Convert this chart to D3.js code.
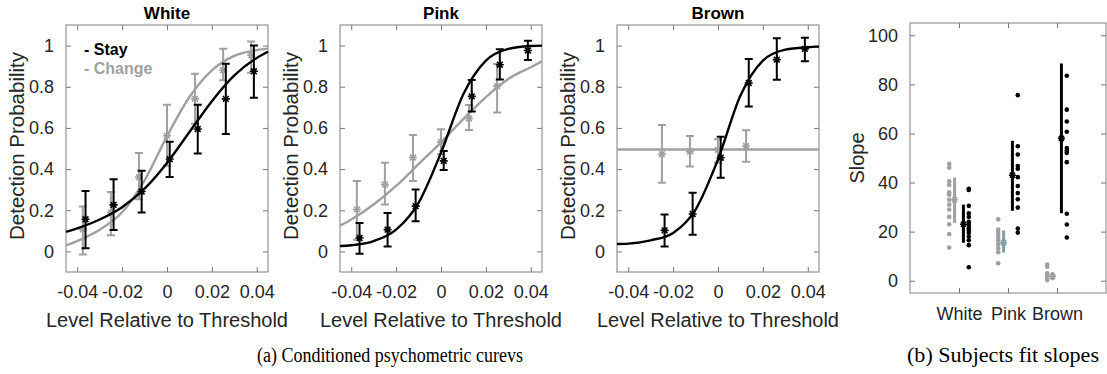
<!DOCTYPE html>
<html>
<head>
<meta charset="utf-8">
<script src="https://cdn.jsdelivr.net/npm/d3@7"></script>
<style>
body { margin: 0; background: #fff; }
svg { display: block; font-family: Arial, "Liberation Sans", sans-serif; }
</style>
</head>
<body>
<svg id="canvas" width="1107" height="374"></svg>
<script>
// ---- datos ----
const panelTitles = ["White", "Pink", "Brown"];
const stayX   = [-0.0363, -0.0238, -0.0113, 0.0012, 0.0137, 0.0262, 0.0387];
const changeX = [-0.0375, -0.025, -0.0125, 0, 0.0125, 0.025, 0.0375];

// [media, inferior, superior]; null = sin punto
const whiteStay   = [[0.156, 0.015, 0.294], [0.226, 0.104, 0.351], [0.291, 0.189, 0.392], [0.449, 0.362, 0.533], [0.595, 0.476, 0.712], [0.741, 0.571, 0.912], [0.875, 0.746, 1.001]];
const whiteChange = [[0.107, -0.015, 0.218], [0.189, 0.078, 0.289], [0.36, 0.254, 0.478], [0.562, 0.416, 0.712], [0.741, 0.62, 0.863], [0.88, 0.831, 0.985], [0.953, 0.868, 1.02]];
const pinkStay    = [[0.065, -0.011, 0.138], [0.106, 0.024, 0.187], [0.22, 0.146, 0.301], [0.44, 0.395, 0.488], [0.753, 0.68, 0.833], [0.907, 0.835, 0.982], [0.976, 0.93, 1.023]];
const pinkChange  = [[0.204, 0.057, 0.342], [0.325, 0.228, 0.431], [0.456, 0.342, 0.565], [0.532, 0.472, 0.594], [0.646, 0.59, 0.711], [0.803, 0.675, 0.911], null];
const brownStay   = [null, [0.102, 0.024, 0.179], [0.182, 0.081, 0.285], [0.455, 0.358, 0.557], [0.818, 0.704, 0.935], [0.932, 0.834, 1.036], [0.984, 0.924, 1.038]];
const brownChange = [null, [0.472, 0.334, 0.614], [0.485, 0.412, 0.561], [0.493, 0.431, 0.545], [0.512, 0.436, 0.589], null, null];

const fitX = [-0.045, -0.04, -0.03, -0.02, -0.01, 0, 0.01, 0.02, 0.03, 0.04, 0.045];
const whiteStayFit   = [0.095, 0.112, 0.155, 0.215, 0.305, 0.43, 0.58, 0.73, 0.855, 0.94, 0.97];
const whiteChangeFit = [0.029, 0.05, 0.105, 0.19, 0.345, 0.56, 0.75, 0.88, 0.95, 0.978, 0.985];
const pinkStayFit    = [0.026, 0.03, 0.05, 0.106, 0.236, 0.48, 0.765, 0.927, 0.984, 0.998, 1.0];
const pinkChangeFit  = [0.125, 0.155, 0.228, 0.318, 0.424, 0.53, 0.644, 0.75, 0.838, 0.895, 0.923];
const brownStayFit   = [0.036, 0.038, 0.054, 0.09, 0.203, 0.447, 0.757, 0.927, 0.98, 0.992, 0.995];
const brownChangeFit = [0.495, 0.495, 0.495, 0.495, 0.495, 0.495, 0.495, 0.495, 0.495, 0.495, 0.495];

const xTicks = [-0.04, -0.02, 0, 0.02, 0.04];
const yTicks = [0, 0.2, 0.4, 0.6, 0.8, 1];

// pendientes por sujeto
const slopeCategories = ["White", "Pink", "Brown"];
const whiteChangeSlopes = [47.6, 46, 40.5, 39, 36, 35, 33, 31, 29, 26, 23, 19, 13.5];
const whiteStaySlopes   = [37.5, 37, 30.5, 27.5, 26, 24, 23.5, 22.5, 21.3, 20.5, 19.5, 18, 16.5, 14.5, 5.5];
const pinkChangeSlopes  = [25, 20.9, 19.9, 18.6, 17.2, 16.3, 14.8, 13.2, 11.6, 7.1];
const pinkStaySlopes    = [75.6, 54.8, 51.4, 46.7, 45.6, 42.2, 38.6, 35.7, 33.2, 29.8, 21.3, 19.6];
const brownChangeSlopes = [6.6, 5.7, 3, 1.7, 0.3, 0.8, 2.2];
const brownStaySlopes   = [83.5, 69.7, 64.9, 60.7, 54.1, 53, 52.1, 48.3, 27.3, 22.9, 17.6];
const changeMean = [33, 15.5, 1.8];
const changeLo   = [23.5, 11.5, 0.2];
const changeHi   = [42, 20.5, 3.5];
const stayMean   = [23, 43, 58];
const stayLo     = [15.5, 28.5, 27.5];
const stayHi     = [31, 57, 88.5];
const slopeTicks = [0, 20, 40, 60, 80, 100];

const svg = d3.select("#canvas");
const GRIS = "#a0a0a0";
const NEGRO = "#000";
const EJE = "#262626";

function asterisco(g, x, y, color, r) {
    const d = `M${x - r},${y}H${x + r}M${x},${y - r}V${y + r}` +
        `M${x - r * 0.72},${y - r * 0.72}L${x + r * 0.72},${y + r * 0.72}` +
        `M${x - r * 0.72},${y + r * 0.72}L${x + r * 0.72},${y - r * 0.72}`;
    g.append("path").attr("d", d).attr("stroke", color).attr("stroke-width", 1.6).attr("fill", "none");
}

function cajaEjes(g, x, y, xTickVals, xFmt, xPad, yTickVals, yFmt) {
    const [x0, x1] = x.range();
    const [y0, y1] = y.range();
    const ax = g.append("g").attr("transform", `translate(0,${y0})`)
        .call(d3.axisBottom(x).tickValues(xTickVals).tickFormat(xFmt).tickSize(-5).tickPadding(xPad));
    const ay = g.append("g").attr("transform", `translate(${x0},0)`)
        .call(d3.axisLeft(y).tickValues(yTickVals).tickFormat(yFmt).tickSize(-5).tickPadding(12));
    g.append("g").attr("transform", `translate(0,${y1})`)
        .call(d3.axisTop(x).tickValues(xTickVals).tickFormat("").tickSize(-5));
    g.append("g").attr("transform", `translate(${x1},0)`)
        .call(d3.axisRight(y).tickValues(yTickVals).tickFormat("").tickSize(-5));
    g.selectAll(".domain").remove();
    g.selectAll(".tick line").attr("stroke", "#777");
    [ax, ay].forEach(a => a.selectAll("text").attr("fill", EJE).style("font-size", "18px"));
    g.append("rect").attr("x", x0).attr("y", y1).attr("width", x1 - x0).attr("height", y0 - y1)
        .attr("fill", "none").attr("stroke", "#808080").attr("stroke-width", 1);
}

const psicometricos = [
    { stay: whiteStay, change: whiteChange, stayFit: whiteStayFit, changeFit: whiteChangeFit },
    { stay: pinkStay, change: pinkChange, stayFit: pinkStayFit, changeFit: pinkChangeFit },
    { stay: brownStay, change: brownChange, stayFit: brownStayFit, changeFit: brownChangeFit }
];
const izquierdas = [66, 340, 617];
const anchoPanel = 202;

psicometricos.forEach((p, i) => {
    const left = izquierdas[i];
    const x = d3.scaleLinear().domain([-0.045, 0.045]).range([left, left + anchoPanel]);
    const y = d3.scaleLinear().domain([-0.1, 1.1]).range([272, 25]);
    const g = svg.append("g");

    cajaEjes(g, x, y, xTicks, d => d === 0 ? "0" : d.toFixed(2), 13,
        yTicks, d => d === 0 ? "0" : d === 1 ? "1" : d.toFixed(1));

    const cuerpo = g.append("g");
    const linea = d3.line().x((d, j) => x(fitX[j])).y(d => y(d)).curve(d3.curveMonotoneX);

    // serie "Change" (gris) y luego "Stay" (negro)
    [[p.change, p.changeFit, changeX, GRIS], [p.stay, p.stayFit, stayX, NEGRO]].forEach(([pts, fit, xs, color]) => {
        cuerpo.append("path").attr("d", linea(fit)).attr("fill", "none")
            .attr("stroke", color).attr("stroke-width", 2.4);
        pts.forEach((v, j) => {
            if (!v) return;
            const cx = x(xs[j]);
            const cap = 4;
            cuerpo.append("path")
                .attr("d", `M${cx},${y(v[1])}V${y(v[2])}M${cx - cap},${y(v[1])}H${cx + cap}M${cx - cap},${y(v[2])}H${cx + cap}`)
                .attr("stroke", color).attr("stroke-width", 2).attr("fill", "none");
            asterisco(cuerpo, cx, y(v[0]), color, 4);
        });
    });

    g.append("text").attr("x", left + anchoPanel / 2).attr("y", 19).attr("text-anchor", "middle")
        .style("font-size", "17px").style("font-weight", "bold").attr("fill", "#000").text(panelTitles[i]);
    g.append("text").attr("x", left + anchoPanel / 2).attr("y", 327).attr("text-anchor", "middle")
        .style("font-size", "20px").attr("fill", EJE).text("Level Relative to Threshold");
    g.append("text").attr("transform", `translate(${left - 42},${146}) rotate(-90)`).attr("text-anchor", "middle")
        .style("font-size", "20.5px").attr("fill", EJE).text("Detection Probability");
});

// leyenda del primer panel
svg.append("text").attr("x", 84).attr("y", 55).style("font-size", "16px").style("font-weight", "bold")
    .attr("fill", NEGRO).text("- Stay");
svg.append("text").attr("x", 84).attr("y", 74).style("font-size", "16px").style("font-weight", "bold")
    .attr("fill", GRIS).text("- Change");

// ---- panel de pendientes ----
const xs = d3.scaleLinear().domain([0, 4]).range([910, 1106]);
const ys = d3.scaleLinear().domain([-5, 105]).range([293, 23]);
const gs = svg.append("g");
cajaEjes(gs, xs, ys, [1, 2, 3], d => slopeCategories[d - 1], 14, slopeTicks, d => d);
gs.append("text").attr("transform", `translate(864,158) rotate(-90)`).attr("text-anchor", "middle")
    .style("font-size", "20px").attr("fill", EJE).text("Slope");

const cambios = [whiteChangeSlopes, pinkChangeSlopes, brownChangeSlopes];
const quedas = [whiteStaySlopes, pinkStaySlopes, brownStaySlopes];
const coloresBarraCambio = [GRIS, "#7fa3a3", GRIS];
const gp = gs.append("g");
slopeCategories.forEach((c, i) => {
    const k = i + 1;
    // barras de media ± desviación
    gp.append("line").attr("x1", xs(k - 0.09)).attr("x2", xs(k - 0.09))
        .attr("y1", ys(changeLo[i])).attr("y2", ys(changeHi[i]))
        .attr("stroke", coloresBarraCambio[i]).attr("stroke-width", 3);
    asterisco(gp, xs(k - 0.09), ys(changeMean[i]), coloresBarraCambio[i], 3.5);
    gp.append("line").attr("x1", xs(k + 0.09)).attr("x2", xs(k + 0.09))
        .attr("y1", ys(stayLo[i])).attr("y2", ys(stayHi[i]))
        .attr("stroke", NEGRO).attr("stroke-width", 3);
    asterisco(gp, xs(k + 0.09), ys(stayMean[i]), NEGRO, 3.5);
    // sujetos
    gp.selectAll(null).data(cambios[i]).enter().append("circle")
        .attr("cx", xs(k - 0.2)).attr("cy", d => ys(d)).attr("r", 2.3).attr("fill", GRIS);
    gp.selectAll(null).data(quedas[i]).enter().append("circle")
        .attr("cx", xs(k + 0.2)).attr("cy", d => ys(d)).attr("r", 2.3).attr("fill", NEGRO);
});

// pies de figura
svg.append("text").attr("x", 390).attr("y", 362).attr("text-anchor", "middle")
    .style("font-family", "'Liberation Serif', 'DejaVu Serif', serif").style("font-size", "20px")
    .attr("fill", "#000").attr("textLength", 266).attr("lengthAdjust", "spacingAndGlyphs")
    .text("(a) Conditioned psychometric curevs");
svg.append("text").attr("x", 1003).attr("y", 362).attr("text-anchor", "middle")
    .style("font-family", "'Liberation Serif', 'DejaVu Serif', serif").style("font-size", "20px")
    .attr("fill", "#000").attr("textLength", 192).attr("lengthAdjust", "spacingAndGlyphs")
    .text("(b) Subjects fit slopes");
</script>
</body>
</html>
